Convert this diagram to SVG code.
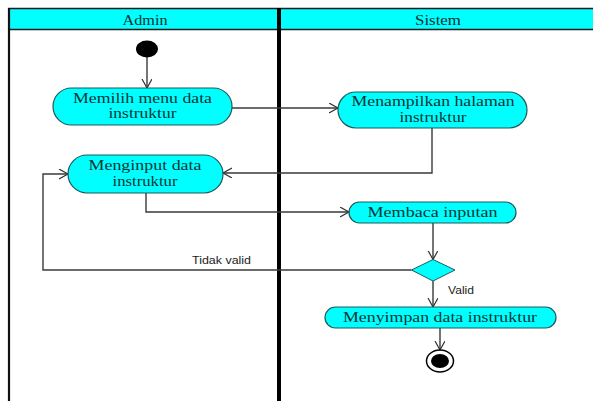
<svg xmlns="http://www.w3.org/2000/svg" width="593" height="401" viewBox="0 0 593 401">
  <style>
    .lane-head { fill: #00ffff; stroke: #1a1a1a; stroke-width: 1.5; }
    .lane-title { font-family: "Liberation Serif", "Times New Roman", serif; font-size: 15px; fill: #103030; text-anchor: middle; }
    .action { fill: #00ffff; stroke: #1f5a5a; stroke-width: 1.2; }
    .action-text { font-family: "Liberation Serif", "Times New Roman", serif; font-size: 15px; fill: #0b3535; text-anchor: middle; }
    .flow { fill: none; stroke: #3a3a3a; stroke-width: 1.4; marker-end: url(#open-arrow); }
    .guard { font-family: "Liberation Sans", Arial, sans-serif; font-size: 11px; fill: #222; }
  </style>
  <defs>
    <marker id="open-arrow" markerUnits="userSpaceOnUse" markerWidth="12" markerHeight="12" refX="9" refY="5" orient="auto">
      <path d="M0,0 L9,5 L0,10" fill="none" stroke="#333" stroke-width="1.2"/>
    </marker>
  </defs>

  <rect width="593" height="401" fill="#ffffff"/>

  <!-- swimlanes -->
  <g id="lanes">
    <rect class="lane-head" x="9" y="8.5" width="590" height="21"/>
    <line x1="9" y1="8" x2="9" y2="401" stroke="#111" stroke-width="2.2"/>
    <line x1="279" y1="8" x2="279" y2="401" stroke="#000" stroke-width="4"/>
    <text class="lane-title" x="145" y="24.5" textLength="45" lengthAdjust="spacingAndGlyphs">Admin</text>
    <text class="lane-title" x="438" y="24.5" textLength="46" lengthAdjust="spacingAndGlyphs">Sistem</text>
  </g>

  <!-- control flows -->
  <g id="connectors">
    <path class="flow" d="M147,57 V88"/>
    <path class="flow" d="M232,108 H338"/>
    <path class="flow" d="M432,128 V173 H223"/>
    <path class="flow" d="M146,193 V212 H349"/>
    <path class="flow" d="M433,223 V259.5"/>
    <path class="flow" d="M411.5,270 H43 V174 H68"/>
    <path class="flow" d="M433,281 V307"/>
    <path class="flow" d="M440,328 V350"/>
    <text class="guard" x="192" y="264" textLength="59" lengthAdjust="spacingAndGlyphs">Tidak valid</text>
    <text class="guard" x="448" y="294" textLength="26" lengthAdjust="spacingAndGlyphs">Valid</text>
  </g>

  <g id="start">
    <ellipse cx="147" cy="49" rx="11" ry="8.5" fill="#000"/>
  </g>

  <g id="memilih-menu">
    <rect class="action" x="53" y="88" width="179" height="37" rx="18.5"/>
    <text class="action-text" x="142.5" y="102.5" textLength="139" lengthAdjust="spacingAndGlyphs">Memilih menu data</text>
    <text class="action-text" x="142.5" y="118" textLength="68" lengthAdjust="spacingAndGlyphs">instruktur</text>
  </g>

  <g id="menampilkan-halaman">
    <rect class="action" x="338" y="92" width="189" height="36" rx="18"/>
    <text class="action-text" x="433" y="106" textLength="163" lengthAdjust="spacingAndGlyphs">Menampilkan halaman</text>
    <text class="action-text" x="433" y="122" textLength="67" lengthAdjust="spacingAndGlyphs">instruktur</text>
  </g>

  <g id="menginput-data">
    <rect class="action" x="68" y="155" width="155" height="38" rx="19"/>
    <text class="action-text" x="145" y="169.5" textLength="113" lengthAdjust="spacingAndGlyphs">Menginput data</text>
    <text class="action-text" x="145" y="185.5" textLength="65" lengthAdjust="spacingAndGlyphs">instruktur</text>
  </g>

  <g id="membaca-inputan">
    <rect class="action" x="349" y="202" width="167" height="21" rx="10.5"/>
    <text class="action-text" x="432.5" y="217" textLength="130" lengthAdjust="spacingAndGlyphs">Membaca inputan</text>
  </g>

  <g id="validasi">
    <polygon points="433,259.5 455,270 433,281 411.5,270" fill="#00ffff" stroke="#1f5a5a" stroke-width="1"/>
  </g>

  <g id="menyimpan-data">
    <rect class="action" x="325" y="307" width="231" height="21" rx="10.5"/>
    <text class="action-text" x="440" y="322" textLength="194" lengthAdjust="spacingAndGlyphs">Menyimpan data instruktur</text>
  </g>

  <g id="end">
    <ellipse cx="440" cy="361" rx="13.5" ry="11" fill="#fff" stroke="#000" stroke-width="1.5"/>
    <ellipse cx="440" cy="361" rx="9" ry="7" fill="#000"/>
  </g>
</svg>
